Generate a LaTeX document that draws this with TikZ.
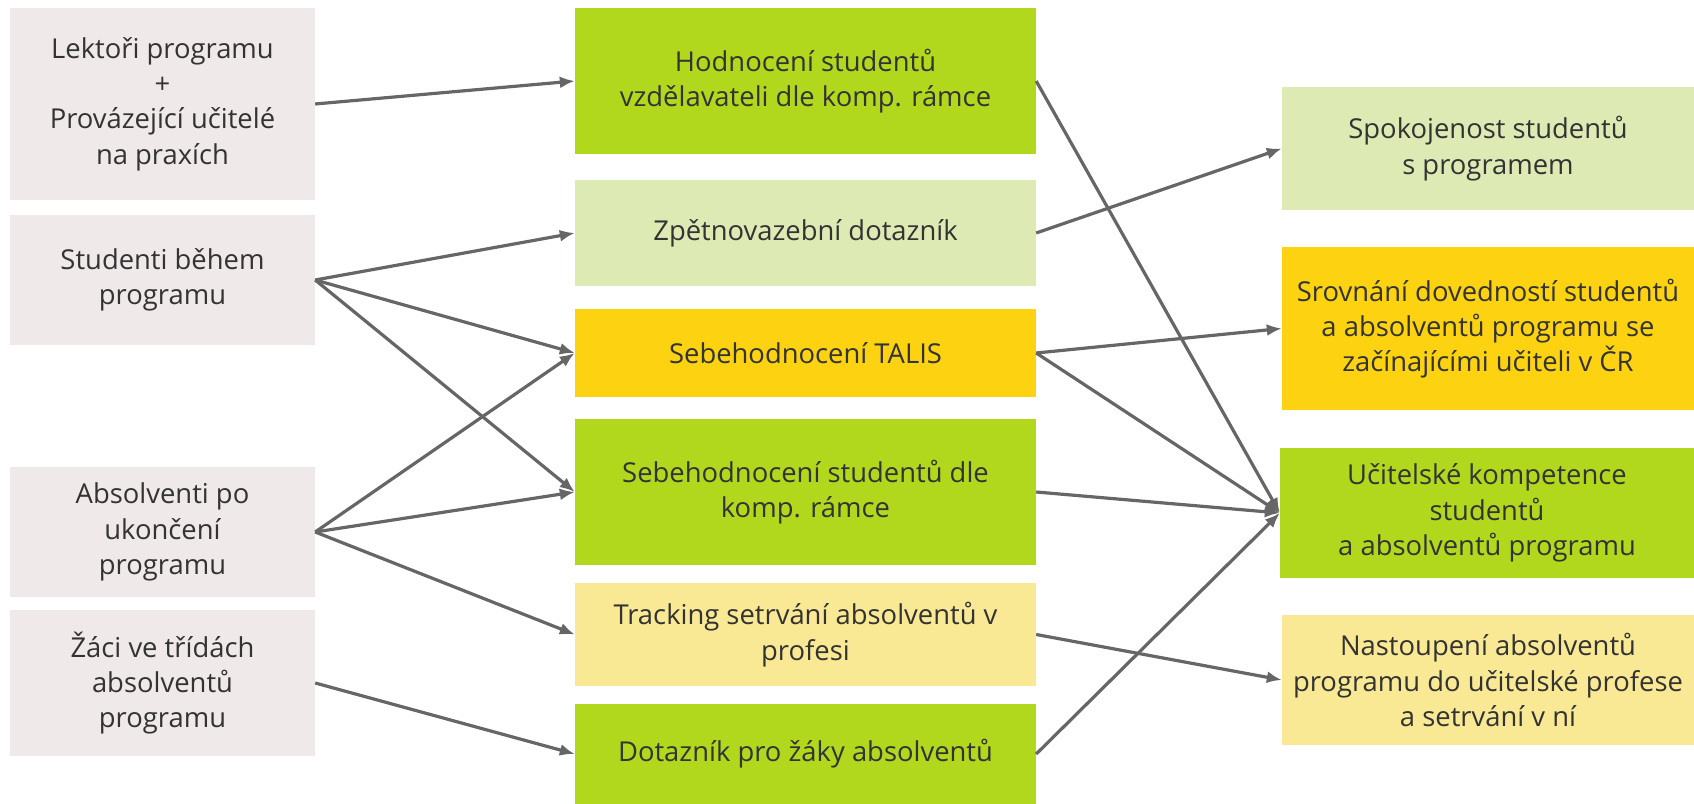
\documentclass[tikz,border=0pt]{standalone}
\usepackage{fontspec}
\usetikzlibrary{arrows.meta}
\setmainfont{Open Sans}
\definecolor{boxgray}{HTML}{EFE9E9}
\definecolor{brightgreen}{HTML}{B2D81E}
\definecolor{palegreen}{HTML}{DEEAB4}
\definecolor{goldyellow}{HTML}{FDD311}
\definecolor{creamyellow}{HTML}{F9E994}
\definecolor{arrowgray}{HTML}{666666}
\definecolor{txtgray}{HTML}{333333}
\begin{document}
\begin{tikzpicture}[>={Latex[length=15bp,width=12bp]},line join=bevel,
  box/.style={draw=none,inner sep=0pt,align=center,text=txtgray,font=\fontsize{27.5}{35.5}\selectfont},
  graybox/.style={box,fill=boxgray,minimum width=305bp},
  midbox/.style={box,minimum width=461bp},
  rightbox/.style={box,minimum width=412bp},
  conn/.style={draw=arrowgray,line width=3.2bp,->},
]
%%
\useasboundingbox (0bp,0bp) rectangle (1694bp,804bp);
\node (lektori) at (162.5bp,700bp) [graybox,minimum height=192bp] {Lektoři programu\\+\\Provázející učitelé\\na praxích};
  \node (studenti) at (162.5bp,524bp) [graybox,minimum height=130bp] {Studenti během\\programu};
  \node (absolventi) at (162.5bp,272bp) [graybox,minimum height=130bp] {Absolventi po\\ukončení\\programu};
  \node (zaci) at (162.5bp,121bp) [graybox,minimum height=146bp] {Žáci ve třídách\\absolventů\\programu};
  \node (hodnoceni) at (805.5bp,723bp) [midbox,fill=brightgreen,minimum height=146bp] {Hodnocení studentů\\vzdělavateli dle komp. rámce};
  \node (zpetnavazba) at (805.5bp,571bp) [midbox,fill=palegreen,minimum height=106bp] {Zpětnovazební dotazník};
  \node (talis) at (805.5bp,451bp) [midbox,fill=goldyellow,minimum height=88bp] {Sebehodnocení TALIS};
  \node (sebehodnoceni) at (805.5bp,312bp) [midbox,fill=brightgreen,minimum height=146bp] {Sebehodnocení studentů dle\\komp. rámce};
  \node (tracking) at (805.5bp,169.5bp) [midbox,fill=creamyellow,minimum height=103bp] {Tracking setrvání absolventů v\\profesi};
  \node (zakdotaznik) at (805.5bp,50bp) [midbox,fill=brightgreen,minimum height=100bp] {Dotazník pro žáky absolventů};
  \node (spokojenost) at (1488bp,655.5bp) [rightbox,fill=palegreen,minimum height=123bp] {Spokojenost studentů\\s programem};
  \node (srovnani) at (1488bp,475.5bp) [rightbox,fill=goldyellow,minimum height=163bp] {Srovnání dovedností studentů\\a absolventů programu se\\začínajícími učiteli v ČR};
  \node (kompetence) at (1487bp,291bp) [rightbox,fill=brightgreen,minimum width=414bp,minimum height=130bp] {Učitelské kompetence\\studentů\\a absolventů programu};
  \node (nastoupeni) at (1488bp,124bp) [rightbox,fill=creamyellow,minimum height=130bp] {Nastoupení absolventů\\programu do učitelské profese\\a setrvání v ní};
  \draw [conn] (lektori.east) -- (hodnoceni.west);
  \draw [conn] (studenti.east) -- (zpetnavazba.west);
  \draw [conn] (studenti.east) -- (talis.west);
  \draw [conn] (studenti.east) -- (sebehodnoceni.west);
  \draw [conn] (absolventi.east) -- (talis.west);
  \draw [conn] (absolventi.east) -- (sebehodnoceni.west);
  \draw [conn] (absolventi.east) -- (tracking.west);
  \draw [conn] (zaci.east) -- (zakdotaznik.west);
  \draw [conn] (hodnoceni.east) -- (kompetence.west);
  \draw [conn] (zpetnavazba.east) -- (spokojenost.west);
  \draw [conn] (talis.east) -- (srovnani.west);
  \draw [conn] (talis.east) -- (kompetence.west);
  \draw [conn] (sebehodnoceni.east) -- (kompetence.west);
  \draw [conn] (tracking.east) -- (nastoupeni.west);
  \draw [conn] (zakdotaznik.east) -- (kompetence.west);
%
\end{tikzpicture}
\end{document}
